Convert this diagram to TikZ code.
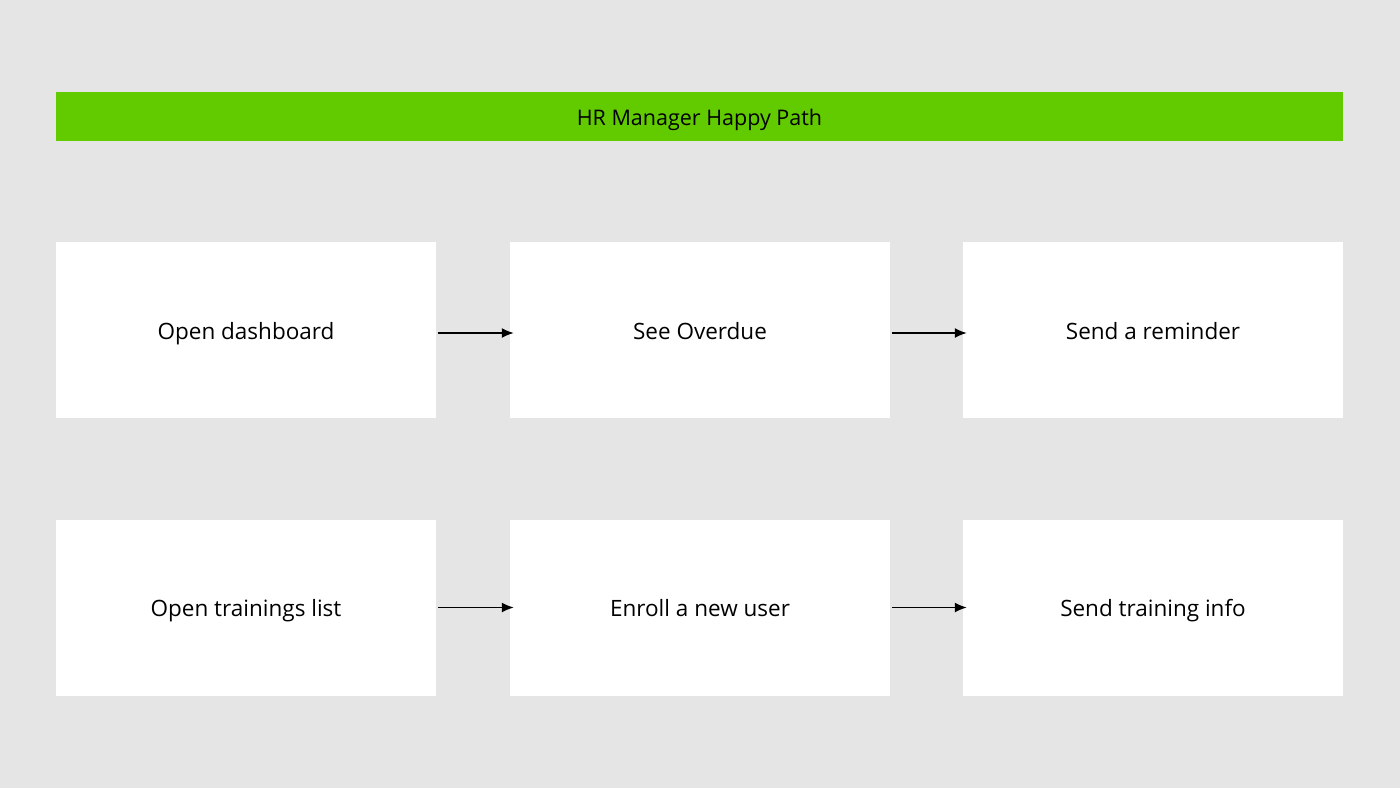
\documentclass[tikz,border=0pt]{standalone}
\usepackage{fontspec}
\setmainfont{Open Sans}
\usetikzlibrary{arrows.meta}
\definecolor{bg}{HTML}{E5E5E5}
\definecolor{hrgreen}{HTML}{62CB00}
\begin{document}
\begin{tikzpicture}[x=1pt,y=-1pt,
  box/.style={fill=white,draw=none,minimum width=380pt,minimum height=176pt,inner sep=0pt,text height=20pt,text depth=2pt,font=\fontsize{22.5}{26}\selectfont},
  arr/.style={-{Latex[length=12pt,width=10pt]},line width=1.6pt}]
\fill[bg] (0,0) rectangle (1400,788);
\useasboundingbox (0,0) rectangle (1400,788);
\node[fill=hrgreen,minimum width=1287pt,minimum height=49pt,inner sep=0pt,text height=18pt,text depth=1pt,font=\fontsize{21.5}{25}\selectfont] (title) at (699.5,116.5) {HR Manager Happy Path};
\node[box] (a) at (246,330) {Open dashboard};
\node[box] (b) at (700,330) {See Overdue};
\node[box] (c) at (1153,330) {Send a reminder};
\node[box] (d) at (246,607.5) {Open trainings list};
\node[box] (e) at (700,607.5) {Enroll a new user};
\node[box] (f) at (1153,607.5) {Send training info};
\draw[arr] ([shift={(2,3)}]a.east) -- ([shift={(4,3)}]b.west);
\draw[arr] ([shift={(2,3)}]b.east) -- ([shift={(4,3)}]c.west);
\draw[arr] ([shift={(2,0)}]d.east) -- ([shift={(4,0)}]e.west);
\draw[arr] ([shift={(2,0)}]e.east) -- ([shift={(4,0)}]f.west);
\end{tikzpicture}
\end{document}
